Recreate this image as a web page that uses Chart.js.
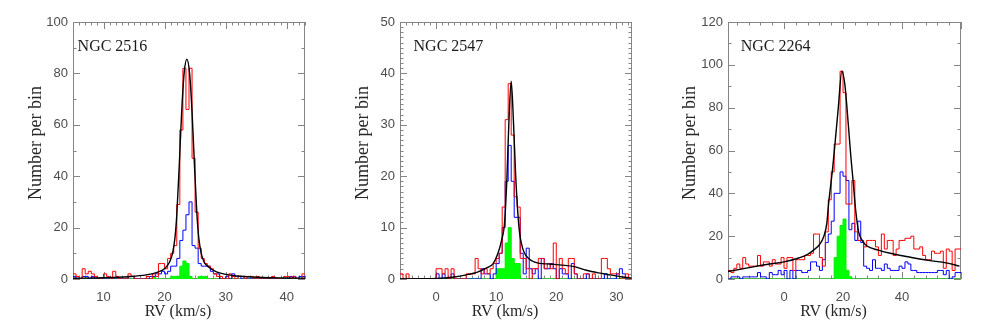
<!DOCTYPE html>
<html>
<head>
<meta charset="utf-8">
<script src="https://cdn.jsdelivr.net/npm/chart.js@4.4.1/dist/chart.umd.min.js"></script>
<style>
  body { margin: 0; background: #fff; width: 981px; height: 327px; position: relative; overflow: hidden; }
  canvas { position: absolute; top: 0; }
</style>
</head>
<body>
<canvas id="c1" width="327" height="327" style="left:0px"></canvas>
<canvas id="c2" width="327" height="327" style="left:327px"></canvas>
<canvas id="c3" width="327" height="327" style="left:654px"></canvas>
<script>
// ---- NGC 2516 : 0.5 km/s bins from 5 km/s
const start1 = 5, width1 = 0.5;
const red1 = [2,1,0,4,2,3,2,1,0,0, 2,1,0,3,1,0,0,0,2,1, 0,0,0,0,1,0,2,1,6,6,
              4,8,10,13,29,58,82,66,82,47, 26,12,8,6,5,4,2,1,1,0, 0,2,1,0,1,1,0,1,1,0,
              1,0,0,0,0,1,0,0,0,1, 1,0,1,0,0,2];
const blue1 = [1,0,0,1,1,0,1,0,0,0, 0,0,0,0,0,0,0,0,1,1, 0,0,0,0,0,1,1,2,2,3,
               2,3,5,5,8,15,19,25,30,13, 12,6,5,5,5,3,2,2,0,0, 1,0,2,1,1,0,0,0,0,0,
               0,0,0,0,0,0,0,0,0,0, 0,1,1,0,1,1];
const green1 = [0,0,0,0,0,0,0,0,0,0, 0,0,0,0,0,0,0,0,0,0, 0,0,0,0,0,0,1,0,0,0,
                0,0,1,1,1,5,7,6,1,0, 0,1,1,1,0,0,0,0,0,0, 0,0,0,0,0,0,0,0,0,0,
                0,0,0,0,0,0,0,0,0,0, 0,0,0,0,0,0];
const fit1X = [5,10,14,17,19,20,20.8,21.3,21.7,22.0,22.4,22.8,23.2,23.65,24.1,24.5,24.9,25.3,25.6,26.0,26.5,27.3,28.5,30,33,36,40,43];
const fit1Y = [0.3,0.5,0.9,1.6,2.8,4,6.5,10,16,25,44,65,80,85.5,80,65,44,25,16,10,6.5,4.5,2.8,1.8,1,0.6,0.4,0.3];
const xTicks1 = [10, 20, 30, 40];
const yTicks1 = [0, 20, 40, 60, 80, 100];

// ---- NGC 2547 : 0.5 km/s bins from -6 km/s
const start2 = -6, width2 = 0.5;
const red2 = [1,0,1,0,0,0,0,0,0,0,0,0,
              2,2,1,2,0,2,0,0,0,0, 1,1,1,4,2,1,2,1,2,3,
              4,5,14,31,38,28,16,14,4,4, 2,0,2,2,4,4,2,3,2,7,
              0,4,2,1,4,4,1,0,0,1, 1,0,1,0,0,4,4,2,1,1,
              1,0,0,1,0];
const blue2 = [0,0,0,0,0,0,0,0,0,0,0,0,
               1,0,1,0,0,1,0,0,0,0, 0,0,0,0,0,2,1,1,0,1,
               3,5,10,19,26,19,12,12,5,1, 6,2,1,2,0,4,2,2,3,2,
               0,2,1,1,0,3,1,0,0,0, 1,0,0,0,0,0,1,0,0,0,
               1,2,1,0,0];
const green2 = [0,0,0,0,0,0,0,0,0,0,0,0,
                0,0,0,0,0,0,0,0,0,0, 0,0,0,0,0,0,0,0,0,0,
                2,2,2,7,10,4,3,3,0,0, 0,0,0,0,0,0,0,0,0,0,
                0,0,0,0,0,0,0,0,0,0, 0,0,0,0,0,0,0,0,0,0,
                0,0,0,0,0];
const fit2X = [-6,-2,0,3,5,7,8.5,9.5,10.3,10.9,11.4,11.8,12.1,12.5,12.9,13.25,13.8,14.4,15,16,17,19,21,23,25,27,29,31,32.5];
const fit2Y = [0,0.05,0.1,0.4,0.8,1.4,2.2,3,5,7.5,11,20,30,38.5,30,20,10,6,4.5,3.5,3.1,2.9,2.7,2.4,1.7,1.2,0.8,0.4,0.2];
const xTicks2 = [0, 10, 20, 30];
const yTicks2 = [0, 10, 20, 30, 40, 50];

// ---- NGC 2264 : 1 km/s bins from -19 km/s
const start3 = -19, width3 = 1;
const red3 = [4,3,5,7,5,10,7,6,6,6, 11,6,8,8,6,9,7,7,10,5,
              10,10,4,9,9,9,11,11,12,21, 21,10,6,22,37,50,63,63,97,87,
              35,35,46,22,18,18,15,18,18,18, 15,11,21,14,18,18,11,14,18,18,
              19,19,20,14,14,15,11,9,9,13, 12,12,13,5,14,13,4,14,14];
const blue3 = [0,1,1,1,0,1,1,1,1,1, 3,1,1,0,3,2,2,4,2,4,
               0,4,0,4,4,3,3,4,8,8, 6,4,9,17,21,27,40,40,50,48,
               46,23,26,18,27,17,6,5,4,9, 5,5,4,7,5,4,4,4,6,5,
               8,7,4,4,3,3,3,3,3,3, 3,4,4,2,4,0,1,3,3];
const green3 = [0,0,0,0,0,0,0,0,0,0, 0,0,0,0,0,0,0,0,0,0,
                0,0,0,0,0,0,0,0,0,0, 0,0,0,0,0,0,10,20,25,28,
                4,1,0,0,0,0,0,0,0,0, 0,0,0,0,0,0,0,0,0,0,
                0,0,0,0,0,0,0,0,0,0, 0,0,0,0,0,0,0,0,0];
const fit3X = [-19,-15,-10,-5,0,5,8,10,12,13.5,14.5,15.1,16.5,17.2,18.4,19.6,20.6,21.8,22.6,23.4,24.3,25.3,26.5,28,32,36,42,49,55,59.5];
const fit3Y = [3.5,4.5,5.8,7,8,9.8,11.5,13.5,16,20,26,35,52,62,80,97,91,72,58,46,32,22,18,15.5,13.5,12,10.4,8.7,7.5,6];
const xTicks3 = [0, 20, 40];
const yTicks3 = [0, 20, 40, 60, 80, 100, 120];

// bin edges -> points for a stepped line (last value held to the right edge)
function stepPoints(start, width, values) {
    const pts = values.map((v, i) => ({ x: start + i * width, y: v }));
    pts.push({ x: start + values.length * width, y: values[values.length - 1] });
    return pts;
}
function curvePoints(xs, ys) {
    return xs.map((x, i) => ({ x: x, y: ys[i] }));
}

const serif = '"Liberation Serif", "DejaVu Serif", serif';

// box with inward ticks on all four sides, axis titles and panel name
const framePlugin = {
    id: 'frame',
    beforeDatasetsDraw(chart, args, opts) {
        const { ctx, chartArea: a, scales: { x, y } } = chart;
        ctx.save();
        ctx.strokeStyle = '#858585';
        ctx.lineWidth = 1;
        ctx.strokeRect(Math.round(a.left) + 0.5, Math.round(a.top) + 0.5,
                       Math.round(a.width) - 1, Math.round(a.height) - 1);
        ctx.beginPath();
        for (let k = Math.ceil(x.min / opts.xMinor); k * opts.xMinor <= x.max + 1e-9; k++) {
            const v = k * opts.xMinor;
            const major = Math.abs(v / opts.xMajor - Math.round(v / opts.xMajor)) < 1e-6;
            const len = major ? 7 : 3.5;
            const px = Math.round(x.getPixelForValue(v)) + 0.5;
            ctx.moveTo(px, a.bottom); ctx.lineTo(px, a.bottom - len);
            ctx.moveTo(px, a.top); ctx.lineTo(px, a.top + len);
        }
        for (let k = Math.ceil(y.min / opts.yMinor); k * opts.yMinor <= y.max + 1e-9; k++) {
            const v = k * opts.yMinor;
            const major = Math.abs(v / opts.yMajor - Math.round(v / opts.yMajor)) < 1e-6;
            const len = major ? 7 : 3.5;
            const py = Math.round(y.getPixelForValue(v)) + 0.5;
            ctx.moveTo(a.left, py); ctx.lineTo(a.left + len, py);
            ctx.moveTo(a.right, py); ctx.lineTo(a.right - len, py);
        }
        ctx.stroke();
        ctx.restore();
    },
    afterDraw(chart, args, opts) {
        const { ctx, chartArea: a, scales: { x, y } } = chart;
        ctx.save();
        ctx.fillStyle = '#1a1a1a';
        ctx.textBaseline = 'middle';
        ctx.font = '16px ' + serif;
        ctx.textAlign = 'left';
        ctx.fillText(opts.name, x.getPixelForValue(opts.nameX), y.getPixelForValue(opts.nameY));
        // x title, sitting a little left of centre as in the original
        ctx.fillStyle = '#262626';
        ctx.textAlign = 'center';
        ctx.fillText('RV (km/s)', (a.left + a.right) / 2 - 11, 312);
        // y title
        ctx.font = '18px ' + serif;
        ctx.translate(36, 143);
        ctx.rotate(-Math.PI / 2);
        ctx.fillText('Number per bin', 0, 0);
        ctx.restore();
    }
};

const tickFont = { family: '"Liberation Sans", Arial, sans-serif', size: 13 };

function makePanel(id, p) {
    new Chart(document.getElementById(id), {
        type: 'line',
        data: {
            datasets: [
                { data: curvePoints(p.fitX, p.fitY), borderColor: '#000000', borderWidth: 1.4,
                  cubicInterpolationMode: 'monotone', pointRadius: 0, order: 0 },
                { data: stepPoints(p.start, p.width, p.red), borderColor: '#ff0000', borderWidth: 1,
                  stepped: true, pointRadius: 0, order: 1 },
                { data: stepPoints(p.start, p.width, p.blue), borderColor: '#0000ff', borderWidth: 1,
                  stepped: true, pointRadius: 0, order: 2 },
                { data: stepPoints(p.start, p.width, p.green), borderColor: '#00ee00', borderWidth: 1,
                  backgroundColor: '#00ff00', fill: 'origin', stepped: true, pointRadius: 0, order: 3 }
            ]
        },
        options: {
            responsive: false,
            animation: false,
            layout: { padding: { top: 22, right: p.padRight, left: 0, bottom: 0 } },
            plugins: {
                legend: { display: false },
                tooltip: { enabled: false },
                frame: { name: p.name, nameX: p.nameX, nameY: p.nameY,
                         xMajor: p.xMajor, xMinor: p.xMinor, yMajor: p.yMajor, yMinor: p.yMinor }
            },
            scales: {
                x: {
                    type: 'linear', min: p.xMin, max: p.xMax,
                    grid: { drawOnChartArea: false, drawTicks: false }, border: { display: false },
                    afterBuildTicks: s => { s.ticks = p.xTicks.map(v => ({ value: v })); },
                    afterFit: s => { s.height = 48; },
                    ticks: { font: tickFont, color: '#4d4d4d', padding: 11, maxRotation: 0, autoSkip: false }
                },
                y: {
                    type: 'linear', min: 0, max: p.yMax,
                    grid: { drawOnChartArea: false, drawTicks: false }, border: { display: false },
                    afterBuildTicks: s => { s.ticks = p.yTicks.map(v => ({ value: v })); },
                    afterFit: s => { s.width = p.yWidth; },
                    ticks: { font: tickFont, color: '#4d4d4d', padding: 5, autoSkip: false }
                }
            }
        },
        plugins: [framePlugin]
    });
}

makePanel('c1', { name: 'NGC 2516', nameX: 5.75, nameY: 90.4,
    start: start1, width: width1, red: red1, blue: blue1, green: green1, fitX: fit1X, fitY: fit1Y,
    xMin: 5, xMax: 43, yMax: 100, xTicks: xTicks1, yTicks: yTicks1,
    xMajor: 10, xMinor: 1, yMajor: 20, yMinor: 10, yWidth: 73, padRight: 22 });

makePanel('c2', { name: 'NGC 2547', nameX: -3.75, nameY: 45.2,
    start: start2, width: width2, red: red2, blue: blue2, green: green2, fitX: fit2X, fitY: fit2Y,
    xMin: -6, xMax: 32.6, yMax: 50, xTicks: xTicks2, yTicks: yTicks2,
    xMajor: 10, xMinor: 1, yMajor: 10, yMinor: 1, yWidth: 73, padRight: 22 });

makePanel('c3', { name: 'NGC 2264', nameX: -14.7, nameY: 108.5,
    start: start3, width: width3, red: red3, blue: blue3, green: green3, fitX: fit3X, fitY: fit3Y,
    xMin: -19, xMax: 60, yMax: 120, xTicks: xTicks3, yTicks: yTicks3,
    xMajor: 20, xMinor: 4, yMajor: 20, yMinor: 10, yWidth: 74, padRight: 20 });
</script>
</body>
</html>
